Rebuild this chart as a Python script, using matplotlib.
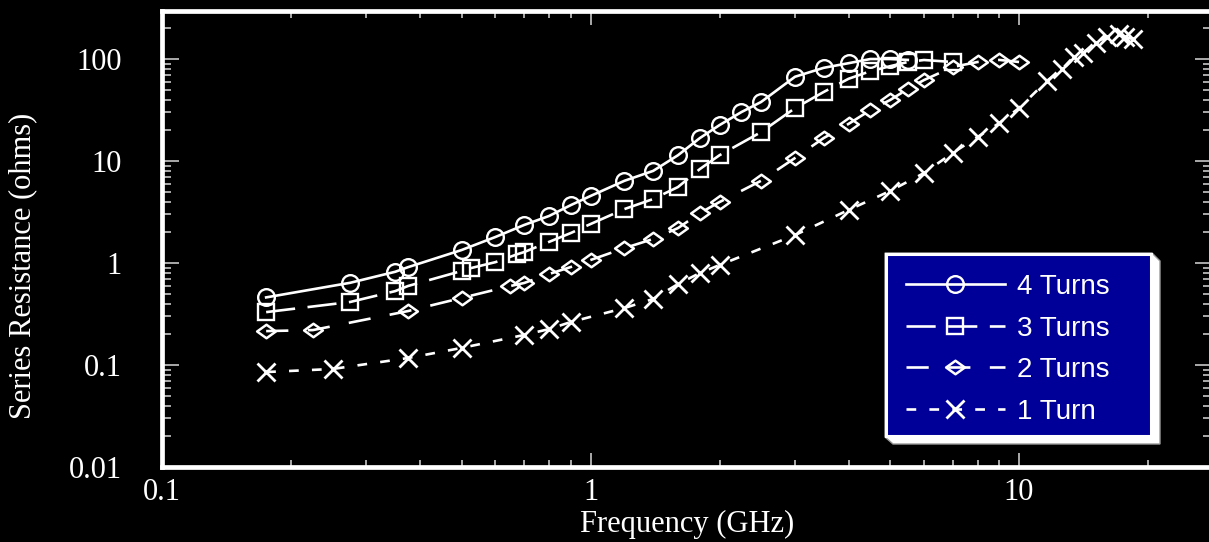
import matplotlib
matplotlib.use("Agg")
import matplotlib.pyplot as plt
from matplotlib.path import Path
from matplotlib.patches import Polygon, Rectangle
from matplotlib.ticker import FixedLocator, FixedFormatter, LogLocator, NullFormatter

# --- data ---
freq_4 = [0.175, 0.275, 0.35, 0.375, 0.5, 0.6, 0.7, 0.8, 0.9, 1.0, 1.2, 1.4, 1.6,
          1.8, 2.0, 2.25, 2.5, 3.0, 3.5, 4.0, 4.5, 5.0, 5.5]
res_4 = [0.46, 0.64, 0.82, 0.91, 1.34, 1.80, 2.36, 2.89, 3.70, 4.54, 6.4, 8.0, 11.4,
         16.8, 22.5, 30.2, 37.9, 67, 82, 91, 100, 100, 98]

freq_3 = [0.175, 0.275, 0.35, 0.375, 0.5, 0.525, 0.6, 0.675, 0.7, 0.8, 0.9, 1.0, 1.2,
          1.4, 1.6, 1.8, 2.0, 2.5, 3.0, 3.5, 4.0, 4.5, 5.0, 5.5, 6.0, 7.0]
res_3 = [0.33, 0.415, 0.53, 0.595, 0.835, 0.89, 1.02, 1.22, 1.28, 1.61, 1.97, 2.41, 3.38,
         4.24, 5.56, 8.35, 11.4, 19.2, 33, 47.5, 64, 76, 85, 93.5, 97.8, 93.5]

freq_2 = [0.175, 0.225, 0.375, 0.5, 0.65, 0.7, 0.8, 0.9, 1.0, 1.2, 1.4, 1.6, 1.8, 2.0,
          2.5, 3.0, 3.5, 4.0, 4.5, 5.0, 5.5, 6.0, 7.0, 8.0, 9.0, 10.0]
res_2 = [0.215, 0.22, 0.338, 0.454, 0.595, 0.637, 0.78, 0.914, 1.07, 1.40, 1.72, 2.20,
         3.09, 3.96, 6.4, 10.7, 16.8, 23.1, 31.6, 39.6, 50.8, 62.2, 83.5, 93.5, 98, 93.5]

freq_1 = [0.175, 0.25, 0.375, 0.5, 0.7, 0.8, 0.9, 1.2, 1.4, 1.6, 1.8, 2.0, 3.0, 4.0,
          5.0, 6.0, 7.0, 8.0, 9.0, 10.0, 11.6, 12.6, 13.4, 14.1, 15.1, 16.0, 17.1,
          17.7, 18.4]
res_1 = [0.0853, 0.0914, 0.117, 0.147, 0.197, 0.225, 0.264, 0.362, 0.444, 0.622, 0.798,
         0.955, 1.88, 3.31, 5.08, 7.62, 12.0, 17.2, 23.6, 33.1, 60.8, 79.8, 105, 115,
         144, 164, 176, 164, 157]

labels = ['4 Turns', '3 Turns', '2 Turns', '1 Turn']
x_ticks = [0.1, 1, 10]
x_ticklabels = ['0.1', '1', '10']
y_ticks = [0.01, 0.1, 1, 10, 100]
y_ticklabels = ['0.01', '0.1', '1', '10', '100']

W, H = 1209, 542
plt.rcParams['lines.scale_dashes'] = False

fig = plt.figure(figsize=(W / 100, H / 100), dpi=100, facecolor='black')
ax = fig.add_axes([162 / W, 1 - 467 / H, (1212 - 162) / W, (467 - 10.5) / H])
ax.set_facecolor('black')
ax.set_xscale('log')
ax.set_yscale('log')
ax.set_xlim(0.1, 28.2)
ax.set_ylim(0.01, 299)

# wide diamond marker
diamond = Path([(-1, 0), (0, 0.72), (1, 0), (0, -0.72), (-1, 0)],
               [Path.MOVETO, Path.LINETO, Path.LINETO, Path.LINETO, Path.CLOSEPOLY])

common = dict(color='white', lw=1.9, mfc='none', mec='white')
ax.plot(freq_4, res_4, marker='o', ms=12, mew=1.7, ls='-', label=labels[0], **common)
ax.plot(freq_3, res_3, marker='s', ms=11.5, mew=1.7, ls=(0, (21, 9)), label=labels[1], **common)
ax.plot(freq_2, res_2, marker=diamond, ms=13.5, mew=1.8, ls=(0, (16, 14)), label=labels[2], **common)
ax.plot(freq_1, res_1, marker='x', ms=12.5, mew=2.0, ls=(0, (7, 9.5)), label=labels[3], **common)

# frame and ticks
for sp in ax.spines.values():
    sp.set_color('white')
    sp.set_linewidth(3.4)

ax.xaxis.set_major_locator(FixedLocator(x_ticks))
ax.xaxis.set_major_formatter(FixedFormatter(x_ticklabels))
ax.yaxis.set_major_locator(FixedLocator(y_ticks))
ax.yaxis.set_major_formatter(FixedFormatter(y_ticklabels))
ax.xaxis.set_minor_locator(LogLocator(base=10, subs=range(2, 10)))
ax.yaxis.set_minor_locator(LogLocator(base=10, subs=range(2, 10)))
ax.xaxis.set_minor_formatter(NullFormatter())
ax.yaxis.set_minor_formatter(NullFormatter())

serif = ['Liberation Serif', 'DejaVu Serif']
ax.tick_params(which='both', direction='in', top=True, right=True, color='#d8d8d8',
               width=1.1, labelcolor='white')
ax.tick_params(axis='x', which='major', length=10, pad=8, labelsize=22)
ax.tick_params(axis='x', which='minor', length=5)
ax.tick_params(axis='y', which='major', length=12, pad=29, labelsize=22)
ax.tick_params(axis='y', which='minor', length=6.5)
for lab in ax.get_xticklabels() + ax.get_yticklabels():
    lab.set_family(serif)

ax.set_xlabel('Frequency (GHz)', fontsize=22, color='white', family=serif)
ax.set_ylabel('Series Resistance (ohms)', fontsize=22, color='white', family=serif)
ax.xaxis.set_label_coords(0.5, -0.093)
ax.yaxis.set_label_coords(-0.119, 0.44)

# legend box with offset shadow
def fx(px):
    return px / W

def fy(py):
    return 1 - py / H

shadow = Polygon([(fx(1152), fy(253)), (fx(1160), fy(261)), (fx(1160), fy(444)),
                  (fx(893), fy(444)), (fx(885), fy(437)), (fx(885), fy(253))],
                 closed=True, transform=fig.transFigure, facecolor='white',
                 edgecolor='#9a9a9a', lw=1, zorder=4.4, clip_on=False)
ax.add_patch(shadow)
box = Rectangle((fx(886), fy(436)), fx(1151) - fx(886), fy(254) - fy(436),
                transform=fig.transFigure, facecolor='#000099', edgecolor='white',
                lw=2.2, zorder=4.6, clip_on=False)
ax.add_patch(box)

leg = ax.legend(loc='upper left', bbox_to_anchor=(fx(906), fy(274)),
                bbox_transform=fig.transFigure, frameon=False, borderpad=0,
                borderaxespad=0, handlelength=3.56, handletextpad=0.45,
                labelspacing=0.56, numpoints=1,
                prop={'family': ['Liberation Sans', 'DejaVu Sans'], 'size': 20})
leg.set_zorder(5)
for t in leg.get_texts():
    t.set_color('white')

fig.savefig('out.png', dpi=100, facecolor='black')
